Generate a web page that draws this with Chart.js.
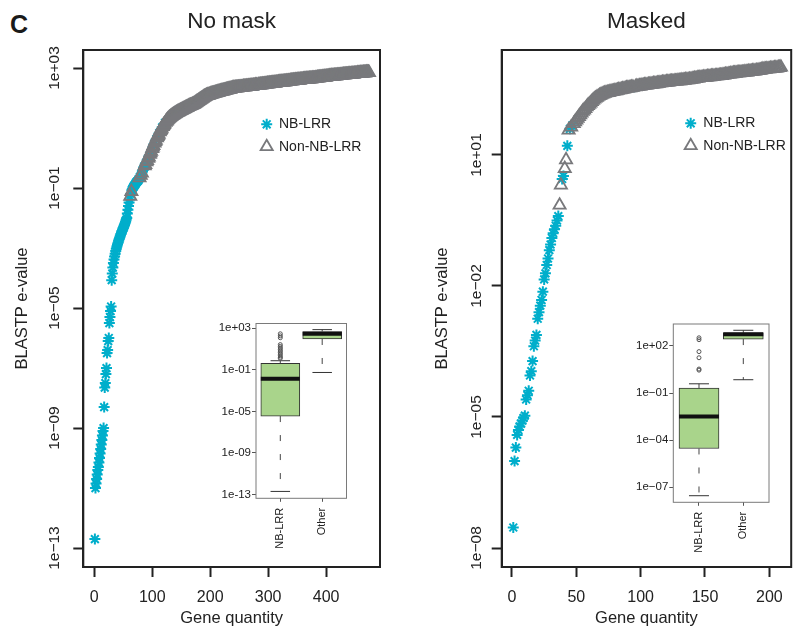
<!DOCTYPE html>
<html lang="en">
<head>
<meta charset="UTF-8">
<title>BLASTP e-values of NB-LRR genes: No mask / Masked</title>
<script src="https://cdn.jsdelivr.net/npm/chart.js"></script>
<style>
  html, body { margin: 0; padding: 0; background: #fff; overflow: hidden; }
  #wrap { position: relative; width: 793px; height: 629px; overflow: hidden; }
  canvas { position: absolute; }
  #panelTag { position: absolute; left: 10px; top: 12px; color: #1a1a1a;
    font: bold 25px/25px "Liberation Sans", Arial, sans-serif; }
</style>
</head>
<body>
<div id="wrap">
  <div id="panelTag">C</div>
  <canvas id="noMask" width="400" height="629" style="left:0;top:0"></canvas>
  <canvas id="masked" width="400" height="629" style="left:400px;top:0"></canvas>
  <canvas id="noMaskBox" width="170" height="260" style="left:200px;top:300px"></canvas>
  <canvas id="maskedBox" width="173" height="260" style="left:620px;top:300px"></canvas>
</div>
<script>
// log10(e-value) of every gene, in rank order
const noMaskLogE = [
  -12.7,
  -11.0,-10.85,-10.7,-10.55,-10.4,-10.3,-10.15,-10.0,-9.85,-9.7,-9.55,-9.4,-9.25,-9.1,-9.0,
  -8.3,
  -7.65,-7.5,-7.2,-7.0,
  -6.5,-6.4,-6.1,-6.0,
  -5.5,-5.3,-5.1,-4.95,
  -4.07,-3.85,-3.65,-3.5,
  -3.38,-3.28,-3.19,-3.1,-3.02,-2.95,-2.88,-2.82,-2.76,-2.7,-2.64,-2.58,-2.53,-2.48,-2.43,-2.38,-2.33,-2.28,-2.23,-2.18,-2.12,-2.06,-2.0,
  -1.85,-1.72,-1.6,-1.48,-1.38,-1.28,-1.2,-1.12,
  -1.06,-1.02,-0.98,-0.95,-0.92,-0.89,-0.86,-0.83,-0.8,-0.78,-0.76,-0.74,
  -0.7,-0.66,-0.62,-0.58,-0.54,-0.5,-0.45,-0.4,-0.35,-0.3,
  -0.26,-0.22,-0.17,-0.13,-0.09,-0.05,-0.01,0.03,0.08,0.12,0.17,0.22,
  0.26,0.31,0.36,0.41,0.46,0.5,0.55,0.59,0.63,0.67,0.71,0.75,
  0.79,0.83,0.87,0.91,0.95,0.99,1.02,1.05,1.08,1.11,1.14,1.17,
  1.19,1.22,1.24,1.27,1.29,1.31,1.33,1.35,1.36,1.38,1.39,1.41,1.42,
  1.43,1.45,1.46,1.47,1.48,1.5,1.51,1.52,1.53,1.54,
  1.55,1.56,1.57,1.58,1.59,1.6,1.61,1.62,1.63,1.64,1.65,1.66,1.67,1.68,1.69,1.7,1.71,1.72,1.73,1.74,1.75,1.75,1.76,1.77,1.78,
  1.79,1.8,1.81,1.83,1.84,1.85,1.87,1.88,1.89,1.91,1.92,1.93,1.95,1.96,1.97,1.99,2.0,2.01,2.03,2.04,2.05,2.06,2.07,2.08,
  2.09,2.09,2.1,2.1,2.11,2.12,2.12,2.13,2.14,2.14,2.15,2.15,2.16,2.16,2.17,2.17,2.18,
  2.19,2.19,2.2,2.2,2.21,2.21,2.22,2.22,2.23,2.23,2.24,2.24,2.25,2.25,2.26,2.26,2.27,2.27,2.28,2.28,2.29,2.29,2.3,2.3,2.31,2.31,2.32,2.32,2.33,
  2.33,2.33,2.33,2.34,2.34,2.34,2.34,2.35,2.35,2.35,2.35,2.35,2.36,2.36,2.36,2.36,2.37,2.37,2.37,2.37,2.37,2.38,2.38,2.38,2.38,2.39,2.39,2.39,
  2.39,2.4,2.4,2.4,2.4,2.41,2.41,2.41,2.41,2.42,2.42,2.42,2.42,2.43,2.43,2.43,2.43,2.44,2.44,2.44,2.44,2.45,2.45,2.45,2.45,2.46,2.46,2.46,2.46,
  2.47,2.47,2.47,2.47,2.48,2.48,2.48,2.48,2.49,2.49,2.49,2.49,2.5,2.5,2.5,2.5,2.51,2.51,2.51,2.51,2.52,2.52,2.52,2.52,2.53,2.53,2.53,2.53,2.53,
  2.54,2.54,2.54,2.54,2.55,2.55,2.55,2.55,2.56,2.56,2.56,2.56,2.57,2.57,2.57,2.57,2.58,2.58,2.58,2.58,2.59,2.59,2.59,2.59,2.6,2.6,2.6,2.6,2.6,
  2.61,2.61,2.61,2.61,2.61,2.62,2.62,2.62,2.62,2.62,2.63,2.63,2.63,2.63,2.63,2.64,2.64,2.64,2.64,2.64,2.65,2.65,2.65,2.65,2.65,2.66,2.66,2.66,
  2.66,2.67,2.67,2.67,2.67,2.68,2.68,2.68,2.68,2.69,2.69,2.69,2.69,2.7,2.7,2.7,2.7,2.71,2.71,2.71,2.71,2.72,2.72,2.72,2.72,2.73,2.73,2.73,2.73,
  2.73,2.74,2.74,2.74,2.74,2.74,2.75,2.75,2.75,2.75,2.75,2.76,2.76,2.76,2.76,2.76,2.77,2.77,2.77,2.77,2.77,2.78,2.78,2.78,2.78,2.78,2.79,2.79,2.79,
  2.79,2.79,2.8,2.8,2.8,2.8,2.8,2.81,2.81,2.81,2.81,2.81,2.82,2.82,2.82,2.82,2.82,2.83,2.83,2.83,2.83,2.83,2.84,2.84,2.84,2.84,2.84,2.85,2.85,2.85,2.85,2.85,2.85
];
// alternating run lengths along the rank: NB-LRR, Non-NB-LRR, NB-LRR, ...
const noMaskRuns = [61,1,1,1,13,1,1,1,1,1,4,2,1,2,1,2,1,3,1,3,1,3,1,4,1,4,1,4,1,159,1,192];

const maskedLogE = [
  -7.53,-6.01,-5.7,-5.41,
  -5.3,-5.22,-5.15,-5.08,-5.02,-4.97,
  -4.6,-4.5,-4.4,
  -4.05,-3.95,
  -3.72,
  -3.38,-3.25,-3.12,
  -2.75,-2.6,-2.45,-2.32,
  -2.13,
  -1.85,-1.71,
  -1.52,-1.37,-1.18,-1.05,-0.9,-0.79,-0.7,-0.62,-0.5,
  -0.4,-0.15,0.31,0.45,0.52,0.69,0.89,1.21,1.57,
  1.6,1.64,1.68,1.72,1.76,1.8,1.84,1.88,1.92,1.96,2.0,2.03,2.06,2.1,2.13,2.16,2.19,2.22,2.25,2.28,2.3,2.32,2.34,2.36,2.37,2.39,2.4,2.41,2.42,
  2.43,2.43,2.44,2.45,2.45,2.46,2.47,2.47,2.48,2.49,2.49,2.5,2.51,2.51,2.52,2.53,2.53,2.54,2.54,2.55,
  2.55,2.56,2.56,2.57,2.57,2.58,2.58,2.59,2.59,2.6,2.6,2.6,2.61,2.61,2.62,2.62,2.63,2.63,2.63,2.64,2.64,2.65,2.65,2.66,2.66,
  2.66,2.67,2.67,2.67,2.68,2.68,2.68,2.69,2.69,2.69,2.7,2.7,2.7,2.71,2.71,2.71,2.72,2.72,2.72,2.73,2.73,2.74,2.74,2.75,2.75,2.76,
  2.76,2.77,2.77,2.77,2.78,2.78,2.78,2.79,2.79,2.79,2.8,2.8,2.8,2.81,2.81,2.81,2.82,2.82,2.82,2.83,2.83,2.84,2.84,2.85,2.85,2.86,
  2.86,2.87,2.87,2.87,2.88,2.88,2.88,2.89,2.89,2.89,2.9,2.9,2.9,2.91,2.91,2.91,2.92,2.92,2.92,2.93,2.93,2.94,2.94,2.95,2.96,
  2.96,2.96,2.97,2.97,2.97,2.98,2.98,2.98,2.99,2.99,2.99,3.0,3.0,3.01
];
const maskedRuns = [36,2,2,2,1,1,1,1,1,47,1,114];

const noMaskXTicks = [0, 100, 200, 300, 400];
const noMaskYTicks = [3, -1, -5, -9, -13];
const maskedXTicks = [0, 50, 100, 150, 200];
const maskedYTicks = [1, -2, -5, -8];

// inset boxplots, log10 values: [lower whisker, Q1, median, Q3, upper whisker]
const boxCats = ['NB-LRR', 'Other'];
const noMaskNbBox = [-12.7, -5.45, -1.87, -0.37, -0.13];
const noMaskOtherBox = [-1.26, 1.96, 2.46, 2.68, 2.86];
const noMaskNbOut = [0.1, 0.2, 0.35, 0.5, 0.65, 0.8, 0.95, 1.1, 1.25, 1.42, 2.08, 2.26, 2.46];
const noMaskBoxTicks = [3, -1, -5, -9, -13];
const maskedNbBox = [-7.54, -4.53, -2.5, -0.69, -0.41];
const maskedOtherBox = [-0.15, 2.44, 2.74, 2.84, 3.0];
const maskedNbOut = [0.46, 0.53, 1.25, 1.64, 2.4, 2.52];
const maskedBoxTicks = [2, -1, -4, -7];

const FONT = '"Liberation Sans", Arial, Helvetica, sans-serif';
const INK = '#222';
const CYAN = '#00AECB';
const GREY = '#78797C';
const BOXFILL = '#A9D48B';
Chart.defaults.font.family = FONT;
Chart.defaults.color = INK;

function eLabel(v, minus) {
  const e = Math.round(Math.log10(v));
  return '1e' + (e < 0 ? minus : '+') + String(Math.abs(e)).padStart(2, '0');
}

function splitByKind(logE, runs) {
  const nb = [], other = [];
  let r = 0;
  runs.forEach((count, k) => {
    for (let j = 0; j < count && r < logE.length; j++, r++) {
      (k % 2 === 0 ? nb : other).push({ x: r + 1, y: Math.pow(10, logE[r]) });
    }
  });
  return { nb, other };
}

// plot box (and optional white background) around the chart area
const frame = {
  id: 'frame',
  beforeDraw(chart, args, o) {
    if (!o.fill) return;
    const a = chart.chartArea, ctx = chart.ctx;
    ctx.save();
    ctx.fillStyle = o.fill;
    ctx.fillRect(a.left, a.top, a.width, a.height);
    ctx.restore();
  },
  afterDraw(chart, args, o) {
    const a = chart.chartArea, ctx = chart.ctx;
    ctx.save();
    ctx.strokeStyle = o.color;
    ctx.lineWidth = o.width;
    ctx.strokeRect(a.left, a.top, a.width, a.height);
    ctx.restore();
  }
};

// R style legend inside the plot, symbols taken from the datasets
const pointKey = {
  id: 'pointKey',
  afterDraw(chart, args, o) {
    const { ctx, chartArea } = chart;
    chart.data.datasets.forEach((ds, i) => {
      const x = chartArea.left + o.dx;
      const y = chartArea.top + o.dy + i * o.gap;
      ctx.save();
      ctx.strokeStyle = ds.borderColor;
      ctx.fillStyle = ds.backgroundColor;
      ctx.lineWidth = ds.borderWidth;
      Chart.helpers.drawPoint(ctx, { pointStyle: ds.pointStyle, radius: ds.pointRadius, borderWidth: ds.borderWidth, rotation: 0 }, x, y);
      ctx.fillStyle = INK;
      ctx.font = '14px ' + FONT;
      ctx.textAlign = 'left';
      ctx.textBaseline = 'middle';
      ctx.fillText(ds.label, x + o.textGap, y);
      ctx.restore();
    });
  }
};

function mainChart(id, o) {
  const pts = splitByKind(o.logE, o.runs);
  return new Chart(document.getElementById(id), {
    type: 'scatter',
    data: {
      datasets: [
        { label: 'NB-LRR', data: pts.nb, pointStyle: 'star', pointRadius: 5.5, borderWidth: 2,
          borderColor: CYAN, backgroundColor: CYAN, order: 2 },
        { label: 'Non-NB-LRR', data: pts.other, pointStyle: 'triangle', pointRadius: 7, borderWidth: 1.8,
          borderColor: GREY, backgroundColor: 'rgba(0,0,0,0)', order: 1 }
      ]
    },
    options: {
      responsive: false,
      animation: false,
      events: [],
      layout: { padding: { left: 0, right: o.padRight, top: 0, bottom: 0 } },
      plugins: {
        legend: { display: false },
        tooltip: { enabled: false },
        title: { display: true, text: o.title, fullSize: false, color: INK,
          font: { size: 22.5, weight: 'normal' }, padding: { top: 8, bottom: 15 } },
        frame: { color: INK, width: 2 },
        pointKey: o.key
      },
      scales: {
        x: {
          type: 'linear', min: o.xMin, max: o.xMax, bounds: 'data',
          afterBuildTicks: s => { s.ticks = o.xTicks.map(v => ({ value: v })); },
          afterFit: s => { s.height = 62; },
          grid: { drawOnChartArea: false, tickLength: 10, tickColor: INK, tickWidth: 2 },
          border: { display: true, color: INK, width: 2 },
          ticks: { autoSkip: false, maxRotation: 0, padding: 11, color: INK, font: { size: 16 } },
          title: { display: true, text: 'Gene quantity', color: INK, font: { size: 16.5 }, padding: { top: 0, bottom: 1 } }
        },
        y: {
          type: 'logarithmic', min: Math.pow(10, o.yMin), max: Math.pow(10, o.yMax), bounds: 'data',
          afterBuildTicks: s => { s.ticks = o.yTicks.map(e => ({ value: Math.pow(10, e) })); },
          afterFit: s => { s.width = o.yAxisW; },
          grid: { drawOnChartArea: false, tickLength: 10, tickColor: INK, tickWidth: 2 },
          border: { display: true, color: INK, width: 2 },
          ticks: { autoSkip: false, minRotation: 90, maxRotation: 90, crossAlign: 'center',
            padding: o.yTickPad, color: INK, font: { size: 15.5 }, callback: v => eLabel(v, '\u2212') },
          title: { display: true, text: 'BLASTP e-value', color: INK, font: { size: 16.5 },
            padding: { top: o.yTitlePad, bottom: 0 } }
        }
      }
    },
    plugins: [frame, pointKey]
  });
}

function boxChart(id, o) {
  const p10 = v => Math.pow(10, v);
  const sets = [];
  sets.push({ type: 'bar', data: o.boxes.map((b, i) => ({ x: i + 1, y: [p10(b[1]), p10(b[3])] })),
    backgroundColor: BOXFILL, borderColor: '#333', borderWidth: 1, borderSkipped: false,
    barThickness: o.boxW, order: 6 });
  o.boxes.forEach((b, i) => {
    [[b[3], b[4]], [b[1], b[0]]].forEach(pair => sets.push({
      type: 'line', data: pair.map(v => ({ x: i + 1, y: p10(v) })),
      borderColor: '#444', borderWidth: 1, borderDash: [6, 13], pointRadius: 0, order: 5 }));
  });
  sets.push({ type: 'scatter', data: o.boxes.flatMap((b, i) => [{ x: i + 1, y: p10(b[0]) }, { x: i + 1, y: p10(b[4]) }]),
    pointStyle: 'line', pointRadius: o.boxW / 4, borderColor: '#333', borderWidth: 1, order: 4 });
  sets.push({ type: 'scatter', data: o.outliers.map(v => ({ x: 1, y: p10(v) })),
    pointStyle: 'circle', pointRadius: 2, borderColor: '#555', backgroundColor: 'rgba(0,0,0,0)', borderWidth: 1, order: 3 });
  sets.push({ type: 'scatter', data: o.boxes.map((b, i) => ({ x: i + 1, y: p10(b[2]) })),
    pointStyle: 'line', pointRadius: o.boxW / 2, borderColor: '#111', borderWidth: 4, order: 1 });

  return new Chart(document.getElementById(id), {
    type: 'bar',
    data: { datasets: sets },
    options: {
      responsive: false,
      animation: false,
      events: [],
      layout: { padding: { left: 0, right: o.padRight, top: o.padTop, bottom: 0 } },
      plugins: {
        legend: { display: false },
        tooltip: { enabled: false },
        frame: { color: '#7a7a7a', width: 1, fill: '#fff' }
      },
      scales: {
        x: {
          type: 'linear', min: 0.42, max: 2.58, bounds: 'data', offset: false,
          afterBuildTicks: s => { s.ticks = boxCats.map((c, i) => ({ value: i + 1 })); },
          afterFit: s => { s.height = o.xAxisH; },
          grid: { offset: false, drawOnChartArea: false, tickLength: 3.5, tickColor: '#555', tickWidth: 1 },
          border: { display: false },
          ticks: { autoSkip: false, minRotation: 90, maxRotation: 90, padding: 6, color: INK,
            font: { size: 11 }, callback: v => boxCats[Math.round(v) - 1] }
        },
        y: {
          type: 'logarithmic', min: p10(o.yMin), max: p10(o.yMax), bounds: 'data', beginAtZero: false,
          afterBuildTicks: s => { s.ticks = o.yTicks.map(e => ({ value: p10(e) })); },
          afterFit: s => { s.width = o.yAxisW; },
          grid: { drawOnChartArea: false, tickLength: 4, tickColor: '#555', tickWidth: 1 },
          border: { display: false },
          ticks: { autoSkip: false, padding: 1, color: INK, font: { size: 11.5 },
            callback: v => eLabel(v, o.minus) }
        }
      }
    },
    plugins: [frame]
  });
}

mainChart('noMask', {
  title: 'No mask', logE: noMaskLogE, runs: noMaskRuns,
  xMin: -19, xMax: 493, xTicks: noMaskXTicks,
  yMin: -13.63, yMax: 3.6, yTicks: noMaskYTicks,
  yAxisW: 83.3, yTickPad: -2.8, yTitlePad: 12.6, padRight: 20,
  key: { dx: 183.4, dy: 74.3, gap: 22.4, textGap: 12.3 }
});
mainChart('masked', {
  title: 'Masked', logE: maskedLogE, runs: maskedRuns,
  xMin: -8, xMax: 217, xTicks: maskedXTicks,
  yMin: -8.435, yMax: 3.404, yTicks: maskedYTicks,
  yAxisW: 101.7, yTickPad: -6.8, yTitlePad: 32.6, padRight: 5,
  key: { dx: 189, dy: 73.3, gap: 22.4, textGap: 12.6 }
});
boxChart('noMaskBox', {
  boxes: [noMaskNbBox, noMaskOtherBox], outliers: noMaskNbOut, boxW: 39,
  yMin: -13.36, yMax: 3.45, yTicks: noMaskBoxTicks, minus: '-',
  yAxisW: 56, xAxisH: 61.7, padTop: 10.7, padRight: 6.7
});
boxChart('maskedBox', {
  boxes: [maskedNbBox, maskedOtherBox], outliers: maskedNbOut, boxW: 40,
  yMin: -7.96, yMax: 3.4, yTicks: maskedBoxTicks, minus: '\u2212',
  yAxisW: 53.3, xAxisH: 57.7, padTop: 12.3, padRight: 11.3
});
</script>
</body>
</html>
